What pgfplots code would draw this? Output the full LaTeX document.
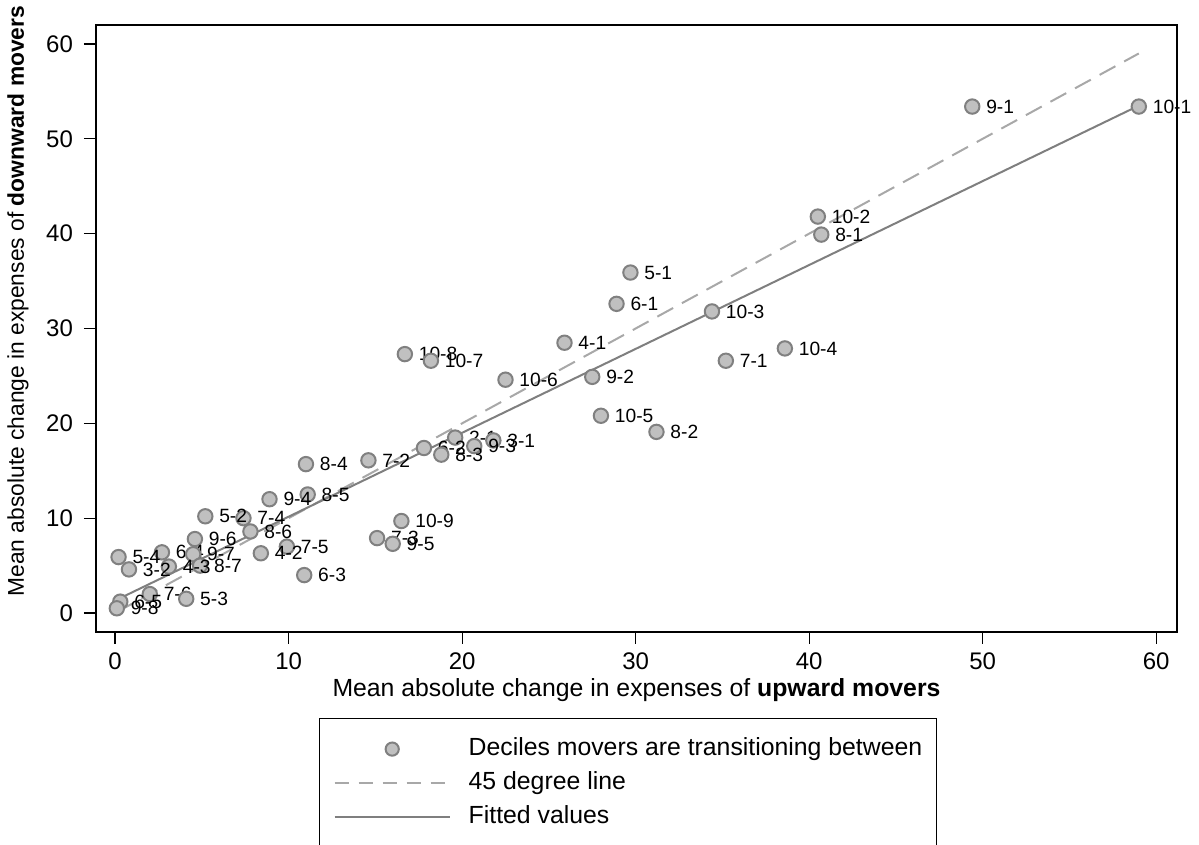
\documentclass[border=0pt]{standalone}
\usepackage{fontspec}
\setmainfont{Liberation Sans}
\usepackage{pgfplots}
\usepackage{pgfplotstable}
\pgfplotsset{compat=1.18}

\definecolor{mfill}{HTML}{C0C0C0}
\definecolor{medge}{HTML}{808080}
\definecolor{fitc}{HTML}{7F7F7F}
\definecolor{degc}{HTML}{A8A8A8}

% deciles movers transition between: mean abs change up (x) / down (y)
\pgfplotstableread{
x    y    lab
59.0 53.4 10-1
49.4 53.4 9-1
40.5 41.8 10-2
40.7 39.9 8-1
29.7 35.9 5-1
28.9 32.6 6-1
34.4 31.8 10-3
25.9 28.5 4-1
38.6 27.9 10-4
35.2 26.6 7-1
27.5 24.9 9-2
22.5 24.6 10-6
16.7 27.3 10-8
18.2 26.6 10-7
28.0 20.8 10-5
31.2 19.1 8-2
19.6 18.5 2-1
21.8 18.2 3-1
20.7 17.6 9-3
17.8 17.4 6-2
18.8 16.7 8-3
14.6 16.1 7-2
11.0 15.7 8-4
11.1 12.5 8-5
8.9  12.0 9-4
16.5 9.7  10-9
15.1 7.9  7-3
16.0 7.3  9-5
9.9  7.0  7-5
8.4  6.3  4-2
10.9 4.0  6-3
7.8  8.6  8-6
7.4  10.0 7-4
5.2  10.2 5-2
4.6  7.8  9-6
2.7  6.4  6-4
4.5  6.2  9-7
4.9  5.0  8-7
3.1  4.9  4-3
0.8  4.6  3-2
0.2  5.9  5-4
2.0  2.0  7-6
4.1  1.5  5-3
0.3  1.2  6-5
0.1  0.5  9-8
}\deciles

\begin{document}
\begin{tikzpicture}
\begin{axis}[
  scale only axis, width=540.5pt, height=303.5pt,
  xmin=-1.1, xmax=61.2, ymin=-2.0, ymax=62.0,
  xtick={0,10,...,60}, ytick={0,10,...,60},
  tick align=outside, major tick length=6pt,
  xtick pos=bottom, ytick pos=left,
  axis line style={line width=1pt},
  tick style={black, line width=0.6pt},
  /pgf/number format/assume math mode=true,
  tick label style={font=\fontsize{12}{14}\selectfont},
  yticklabel style={xshift=-2pt},
  xticklabel style={yshift=-1pt},
  xlabel={Mean absolute change in expenses of \textbf{upward movers}},
  ylabel={Mean absolute change in expenses of \textbf{downward movers}},
  xlabel style={font=\fontsize{12.4}{14}\selectfont, at={(axis description cs:0.5,-0.0955)}, anchor=center},
  ylabel style={font=\fontsize{11.4}{13}\selectfont, at={(axis description cs:-0.0722,0.545)}, anchor=center},
  clip=false,
  legend image code/.code={\draw[mark repeat=2,mark phase=2,#1] plot coordinates {(0pt,0pt) (28.75pt,0pt) (57.5pt,0pt)};},
  legend style={at={(rel axis cs:0.2063,-0.1417)}, anchor=north west,
    draw=black, line width=0.7pt, inner xsep=7pt, inner ysep=9.5pt,
    font=\fontsize{12.4}{14}\selectfont, row sep=5.6pt,
    nodes={inner sep=0pt, text height=8.8pt, text depth=2.6pt, line width=1pt}},
  legend cell align=left,
  legend columns=1,
]
\addlegendimage{only marks, mark=*, mark size=3.3pt, mark options={fill=mfill, draw=medge, line width=1pt}}
\addlegendentry{\hspace{9pt}Deciles movers are transitioning between}
\addlegendimage{degc, dash pattern=on 7pt off 5pt, line width=1pt}
\addlegendentry{\hspace{9pt}45 degree line}
\addlegendimage{fitc, line width=1pt}
\addlegendentry{\hspace{9pt}Fitted values}
\addlegendimage{empty legend}
\addlegendentry{}

\addplot[forget plot, degc, dash pattern=on 9pt off 5pt, line width=1pt] coordinates {(0.1,0.1) (59.0,59.0)};
\addplot[forget plot, fitc, line width=1pt] coordinates {(0.1,1.4) (59.0,53.5)};

\addplot[forget plot, only marks, mark=*, mark size=3.6pt,
  mark options={fill=mfill, draw=medge, line width=1pt},
  nodes near coords, point meta=explicit symbolic,
  nodes near coords align={horizontal},
  every node near coord/.append style={font=\fontsize{9.6}{11}\selectfont, anchor=west, inner sep=0pt, xshift=6.5pt, text=black}]
  table[x=x, y=y, meta=lab] {\deciles};
\end{axis}
\pgfresetboundingbox
\path (-48pt,-106.5pt) rectangle (551.5pt,316pt);
\end{tikzpicture}
\end{document}
